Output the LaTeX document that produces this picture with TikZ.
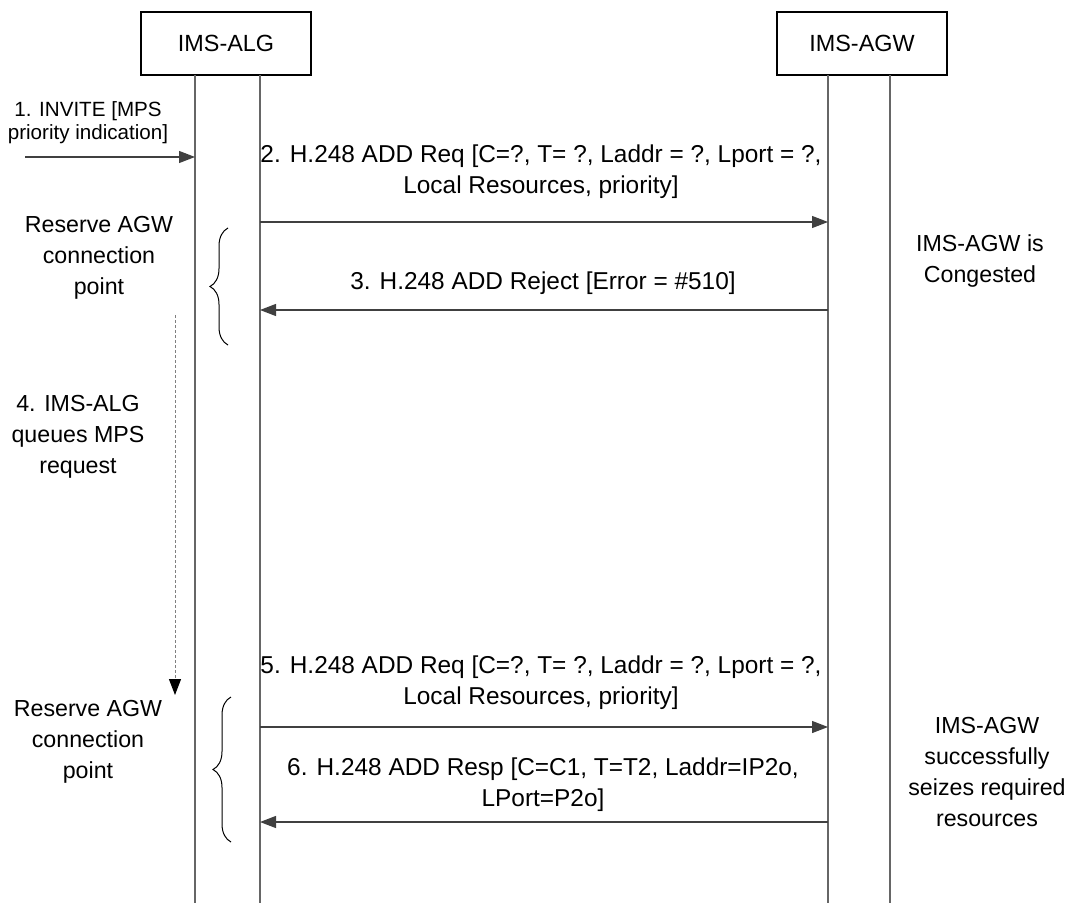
\documentclass[tikz,border=0pt]{standalone}
\usepackage{fontspec}
\setmainfont{Liberation Sans}
\usetikzlibrary{arrows.meta, positioning, calc, decorations.pathreplacing}

\tikzset{
  entity/.style={draw, line width=0.6pt, minimum width=85pt, minimum height=31.5pt,
    inner sep=0pt, font=\fontsize{11.7}{15}\selectfont},
  lifeline/.style={draw=black!60, line width=0.6pt},
  msg/.style={draw=black!75, line width=0.6pt, -{Triangle[length=8pt, width=6pt]}},
  queue/.style={draw=black!50, line width=0.5pt, dash pattern=on 1.5pt off 1pt,
    -{Triangle[length=8pt, width=6pt, color=black]}},
  grp/.style={decorate, decoration={brace, amplitude=9pt}, line width=0.5pt},
  lbl/.style={align=center, inner sep=0pt, font=\fontsize{11.6}{15.5}\selectfont},
  msglbl/.style={align=center, inner sep=0pt, font=\fontsize{12.2}{15.5}\selectfont},
  lblsmall/.style={align=center, inner sep=0pt, font=\fontsize{10.3}{11.5}\selectfont},
}

\begin{document}
\begin{tikzpicture}[x=0.5pt, y=-0.5pt]
  \useasboundingbox (0,0) rectangle (1074,903);

  % Entites
  \node[entity] (alg) at (226,43.5) {IMS-ALG};
  \node[entity] (agw) at (862,43.5) {IMS-AGW};

  % Lignes de vie
  \foreach \n/\x in {algL/195, algR/260, agwL/828, agwR/890} {
    \coordinate (\n) at (\x,75);
    \coordinate (\n-end) at (\x,903);
    \draw[lifeline] (\n) -- (\n-end);
  }

  % Rangees des messages
  \coordinate (m1) at (0,157);
  \coordinate (m2) at (0,222);
  \coordinate (m3) at (0,310);
  \coordinate (m5) at (0,727);
  \coordinate (m6) at (0,822);
  \coordinate (src1) at (25,157);

  % 1. INVITE
  \node[lblsmall] (l1) at (88,123) {1. INVITE [MPS\\priority indication]};
  \draw[msg] (src1) -- (algL |- m1);

  % 2. et 3. : premier essai
  \node[msglbl] (l2) at (541,172) {2. H.248 ADD Req [C=?, T= ?, Laddr = ?, Lport = ?,\\Local Resources, priority]};
  \draw[msg] (algR |- m2) -- (agwL |- m2);
  \node[msglbl] (l3) at (543,283) {3. H.248 ADD Reject [Error = \#510]};
  \draw[msg] (agwL |- m3) -- (algR |- m3);

  \coordinate (g1a) at (228,345);
  \coordinate (g1b) at (228,228);
  \draw[grp] (g1a) -- (g1b);
  \node[lbl] (res1) at (99,258) {Reserve AGW\\connection\\point};
  \node[lbl] (cong) at (980,261) {IMS-AGW is\\Congested};

  % 4. mise en file
  \coordinate (q1) at (175,315);
  \coordinate (q2) at (175,695);
  \draw[queue] (q1) -- (q2);
  \node[lbl] (l4) at (78,437) {4. IMS-ALG\\queues MPS\\request};

  % 5. et 6. : second essai
  \node[msglbl] (l5) at (541,683) {5. H.248 ADD Req [C=?, T= ?, Laddr = ?, Lport = ?,\\Local Resources, priority]};
  \draw[msg] (algR |- m5) -- (agwL |- m5);
  \node[msglbl] (l6) at (543,785) {6. H.248 ADD Resp [C=C1, T=T2, Laddr=IP2o,\\LPort=P2o]};
  \draw[msg] (agwL |- m6) -- (algR |- m6);

  \coordinate (g2a) at (231,842);
  \coordinate (g2b) at (231,697);
  \draw[grp] (g2a) -- (g2b);
  \node[lbl] (res2) at (88,742) {Reserve AGW\\connection\\point};
  \node[lbl] (seize) at (987,772) {IMS-AGW\\successfully\\seizes required\\resources};
\end{tikzpicture}
\end{document}
